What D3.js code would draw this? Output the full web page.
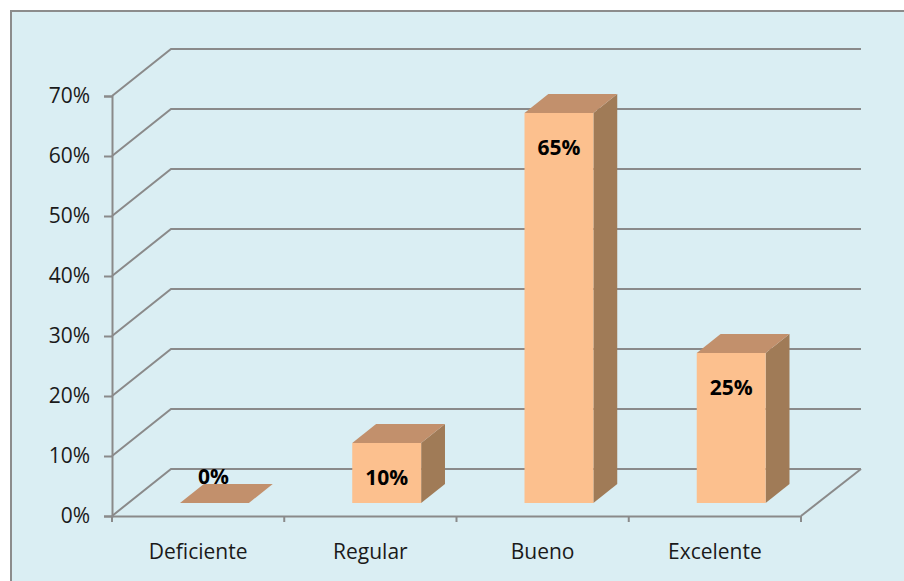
<!DOCTYPE html>
<html>
<head>
<meta charset="utf-8">
<script src="https://cdn.jsdelivr.net/npm/d3@7"></script>
<style>
  html, body { margin: 0; padding: 0; background: #ffffff; }
  svg { display: block; }
</style>
</head>
<body>
<svg id="chart" width="904" height="581"></svg>
<script>
// Data
const categories = ["Deficiente", "Regular", "Bueno", "Excelente"];
const values = [0, 0.10, 0.65, 0.25];
const valueLabels = ["0%", "10%", "65%", "25%"];
const yTicks = [0, 0.1, 0.2, 0.3, 0.4, 0.5, 0.6, 0.7];

const svg = d3.select("#chart");

// Chart area frame
svg.append("rect")
  .attr("x", 11).attr("y", 11)
  .attr("width", 1000).attr("height", 700)
  .attr("fill", "#daeef3")
  .attr("stroke", "#8c8c8c")
  .attr("stroke-width", 2);

// Front plane scales
const x = d3.scaleBand().domain(categories).range([112, 801]);
const y = d3.scaleLinear().domain([0, 0.7]).range([516, 96]);

// Depth vector of the 3D box (front plane -> back wall)
const depth = { dx: 59, dy: -47 };
const backRight = 861;

const gridColor = "#8a8a8a";
const font = "'Open Sans', sans-serif";

// Gridlines: diagonal on the side wall, horizontal on the back wall
const grid = svg.append("g");
yTicks.forEach(t => {
  const fy = y(t);
  grid.append("path")
    .attr("d", `M${x.range()[0]},${fy} L${x.range()[0] + depth.dx},${fy + depth.dy} L${backRight},${fy + depth.dy}`)
    .attr("fill", "none")
    .attr("stroke", gridColor)
    .attr("stroke-width", 2);
});

// Floor right edge
grid.append("line")
  .attr("x1", backRight).attr("y1", y(0) + depth.dy)
  .attr("x2", x.range()[1]).attr("y2", y(0))
  .attr("stroke", gridColor).attr("stroke-width", 2);

// Vertical axis
const yAxis = d3.axisLeft(y)
  .tickValues(yTicks)
  .tickFormat(d3.format(".0%"))
  .tickSize(8)
  .tickPadding(14);
const gy = svg.append("g")
  .attr("transform", `translate(${x.range()[0]},0)`)
  .call(yAxis);
gy.select(".domain").attr("stroke", gridColor).attr("stroke-width", 2);
gy.selectAll(".tick line").attr("stroke", gridColor).attr("stroke-width", 2);
gy.selectAll(".tick text")
  .attr("fill", "#1a1a1a")
  .style("font-family", font)
  .style("font-size", "21px");

// Horizontal axis with ticks at category boundaries
const xAxis = d3.axisBottom(x).tickSize(0).tickPadding(28);
const gx = svg.append("g")
  .attr("transform", `translate(0,${y(0)})`)
  .call(xAxis);
gx.select(".domain").attr("stroke", gridColor).attr("stroke-width", 2);
gx.selectAll(".tick text")
  .attr("fill", "#1a1a1a")
  .style("font-family", font)
  .style("font-size", "21px");
const boundaries = categories.map(c => x(c)).concat([x.range()[1]]);
gx.selectAll(".bound")
  .data(boundaries)
  .enter().append("line")
  .attr("class", "bound")
  .attr("x1", d => d).attr("x2", d => d)
  .attr("y1", 0).attr("y2", 6)
  .attr("stroke", gridColor).attr("stroke-width", 2);

// 3D bars
const frontF = 13 / 47;   // bar front face position inside the depth
const backF = 32 / 47;    // bar back face position inside the depth
const barW = x.bandwidth() * 0.40;
const fdx = depth.dx * frontF, fdy = depth.dy * frontF;
const bdx = depth.dx * (backF - frontF), bdy = depth.dy * (backF - frontF);

const colFront = "#fcc08e";
const colTop = "#c2906c";
const colSide = "#a07b57";

const bars = svg.append("g").selectAll("g.bar")
  .data(categories.map((c, i) => ({ c, v: values[i], label: valueLabels[i] })))
  .enter().append("g").attr("class", "bar");

bars.each(function(d) {
  const g = d3.select(this);
  const cx = x(d.c) + x.bandwidth() / 2 + fdx;
  const x0 = cx - barW / 2, x1 = cx + barW / 2;
  const yb = y(0) + fdy;
  const yt = y(d.v) + fdy;
  // side face
  g.append("path")
    .attr("d", `M${x1},${yb} L${x1 + bdx},${yb + bdy} L${x1 + bdx},${yt + bdy} L${x1},${yt} Z`)
    .attr("fill", colSide);
  // top face
  g.append("path")
    .attr("d", `M${x0},${yt} L${x0 + bdx},${yt + bdy} L${x1 + bdx},${yt + bdy} L${x1},${yt} Z`)
    .attr("fill", colTop);
  // front face
  if (yb - yt > 0) {
    g.append("rect")
      .attr("x", x0).attr("y", yt)
      .attr("width", barW).attr("height", yb - yt)
      .attr("fill", colFront);
  }
  // value label
  const ly = d.v > 0 ? yt + 34 : yb - 27;
  g.append("text")
    .attr("x", cx + (d.v > 0 ? 0 : -1))
    .attr("y", ly)
    .attr("text-anchor", "middle")
    .attr("dominant-baseline", "central")
    .attr("fill", "#000")
    .style("font-family", font)
    .style("font-weight", "bold")
    .style("font-size", "21px")
    .text(d.label);
});
</script>
</body>
</html>
